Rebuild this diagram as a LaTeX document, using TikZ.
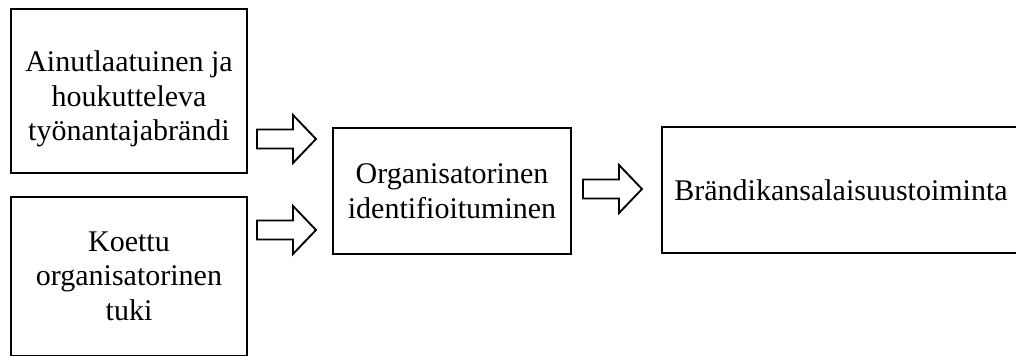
\documentclass[tikz,border=0pt]{standalone}
\usepackage{fontspec}
\setmainfont{Liberation Serif}
\begin{document}
\begin{tikzpicture}[x=0.75pt,y=-0.75pt,
  box/.style={draw, line width=1.5pt, align=center, inner sep=0pt,
    font=\fontsize{22.5}{26}\selectfont},
  boxtext/.style={align=center, inner sep=0pt, font=\fontsize{22.5}{26}\selectfont},
  barrow/.style={draw, line width=1.4pt, line join=miter, fill=white}]
\useasboundingbox (0,0) rectangle (1016,356);
\node[box, minimum width=177pt, minimum height=123pt] (b1) at (129,91) {};
\node[boxtext] (t1) at (129,99)
  {Ainutlaatuinen ja\\houkutteleva\\työnantajabrändi};
\node[box, minimum width=177pt, minimum height=119.25pt] (b2) at (129,276)
  {Koettu\\organisatorinen\\tuki};
\node[box, minimum width=178.5pt, minimum height=94.5pt] (b3) at (452,191)
  {Organisatorinen\\identifioituminen};
\node[box, minimum width=268.5pt, minimum height=94.5pt] (b4) at (841,190)
  {Brändikansalaisuustoiminta};
\coordinate (a1) at (257,139);
\coordinate (a2) at (257,230);
\coordinate (a3) at (583,189);
\foreach \c in {a1,a2,a3}{
  \draw[barrow, shift={(\c)}] (0,-9.5) -- (36,-9.5) -- (36,-24) -- (59,0)
    -- (36,24) -- (36,9.5) -- (0,9.5) -- cycle;
}
\end{tikzpicture}
\end{document}
